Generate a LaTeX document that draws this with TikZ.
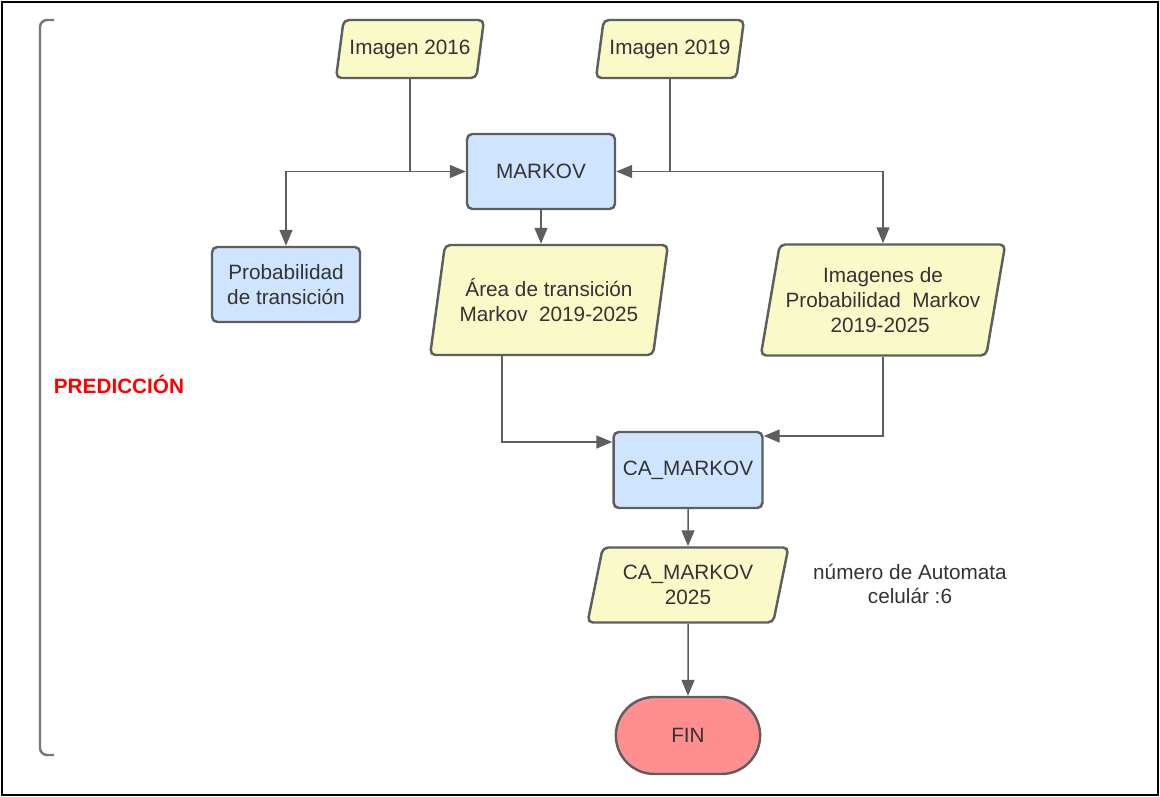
\documentclass[tikz,border=0pt]{standalone}
\usepackage{fontspec}
\setmainfont{Liberation Sans}
\usetikzlibrary{shapes.geometric,shapes.misc,arrows.meta}
\definecolor{boxline}{HTML}{5E5E5E}
\definecolor{txt}{HTML}{333333}
\definecolor{datafill}{HTML}{FAF9C8}
\definecolor{procfill}{HTML}{CFE4FF}
\definecolor{endfill}{HTML}{FF8F8F}
\tikzset{
  every node/.style={font=\fontsize{11.8}{14}\selectfont,text=txt,align=center},
  proc/.style={draw=boxline,line width=1.4pt,fill=procfill,rounded corners=3pt},
  datos/.style={draw=boxline,line width=1.4pt,fill=datafill,rounded corners=3pt,
    trapezium,trapezium left angle=76,trapezium right angle=104,trapezium stretches=true},
  arr/.style={draw=boxline,line width=0.85pt,-{Triangle[length=0.32cm,width=0.26cm]}}
}
\begin{document}
\begin{tikzpicture}[x=0.02cm,y=-0.02cm]
	\useasboundingbox (0,0) rectangle (1160,797);
	\draw[line width=1.1pt] (2,2) rectangle (1158,795);
	\draw[boxline!85,line width=1.4pt,rounded corners=4pt] (54,20)--(40,20)--(40,755)--(54,755);
	\node[text=red,font=\fontsize{11.8}{14}\selectfont\bfseries] (pred) at (119,384) {PREDICCIÓN};
	% entradas
	\node[datos,minimum width=2.92cm,minimum height=1.16cm] (img16) at (410,49) {Imagen 2016};
	\node[datos,minimum width=2.92cm,minimum height=1.16cm] (img19) at (670,49) {Imagen 2019};
	\node[proc,minimum width=2.96cm,minimum height=1.5cm] (markov) at (541,171.5) {MARKOV};
	\node[proc,minimum width=2.96cm,minimum height=1.5cm] (prob) at (286,284.5) {Probabilidad\\de transición};
	\node[datos,minimum width=4.76cm,minimum height=2.2cm] (area) at (549,300) {Área de transición\\Markov~~2019-2025};
	\node[datos,minimum width=4.78cm,minimum height=2.22cm] (imgprob) at (883,300) {Imagenes de\\Probabilidad~~Markov\\2019-2025~~};
	\node[proc,minimum width=2.98cm,minimum height=1.52cm] (ca) at (688,470) {CA\_MARKOV};
	\node[datos,minimum width=4.02cm,minimum height=1.5cm] (ca25) at (688,585) {CA\_MARKOV\\2025};
	\node (nota) at (910,584) {número de Automata\\celulár :6};
	\node[draw=boxline,line width=1.4pt,fill=endfill,rounded rectangle,minimum width=3.12cm,minimum height=1.54cm] (fin) at (688,735.5) {FIN};
	% conectores
	\draw[arr] (img16.south) |- (markov.west);
	\draw[arr] (img16.south) |- (prob.north |- markov.west) -- (prob.north);
	\draw[arr] (img19.south) |- (markov.east);
	\draw[arr] (img19.south) |- (imgprob.north |- markov.east) -- (imgprob.north);
	\draw[arr] (markov.south) -- (markov.south |- area.north);
	\draw[arr] ([xshift=-0.94cm]area.south) |- ([yshift=0.56cm]ca.west);
	\draw[arr] (imgprob.south) |- ([yshift=0.68cm]ca.east);
	\draw[arr] (ca.south) -- (ca25.north);
	\draw[arr] (ca25.south) -- (fin.north);
\end{tikzpicture}
\end{document}
